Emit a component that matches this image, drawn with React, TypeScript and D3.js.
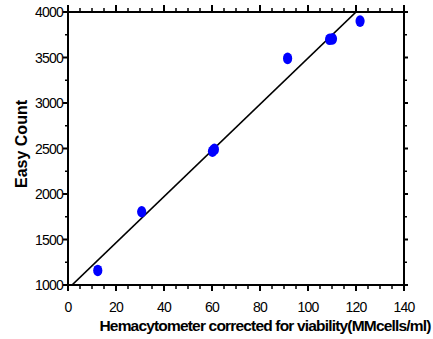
import React from 'react';
import * as d3 from 'd3';

const width = 433;
const height = 339;
const margin = { top: 12, right: 29, bottom: 54, left: 68 };

// measured points: hemacytometer (MM cells/ml) vs Easy Count
const hemaValues = [12.4, 30.7, 60.2, 61.0, 91.5, 109.0, 110.2, 121.7];
const easyValues = [1160, 1805, 2470, 2490, 3490, 3700, 3705, 3900];

// fitted line
const fitSlope = 25.36;
const fitIntercept = 957;

const xTicks = [0, 20, 40, 60, 80, 100, 120, 140];
const yTicks = [1000, 1500, 2000, 2500, 3000, 3500, 4000];

const x = d3
	.scaleLinear()
	.domain([0, 140])
	.range([margin.left, width - margin.right]);

const y = d3
	.scaleLinear()
	.domain([1000, 4000])
	.range([height - margin.bottom, margin.top]);

const xMinor = d3.range(0, 141, 5).filter(d => d % 20 !== 0);
const yMinor = d3.range(1000, 4001, 250).filter(d => d % 500 !== 0);

const fitLine = d3
	.line<number>()
	.x(d => x(d))
	.y(d => y(fitIntercept + fitSlope * d));

const font = '"Liberation Sans", Arial, sans-serif';

export default function App() {
	const x0 = x.range()[0];
	const x1 = x.range()[1];
	const y0 = y.range()[0];
	const y1 = y.range()[1];
	const points = hemaValues.map((h, i) => ({ h, e: easyValues[i] }));

	return (
		<svg width={width} height={height} style={{ position: 'absolute', left: 0, top: 0 }}>
			<defs>
				<clipPath id="plot">
					<rect x={x0} y={y1} width={x1 - x0} height={y0 - y1} />
				</clipPath>
			</defs>
			<rect width={width} height={height} fill="#fff" />

			{/* fit line */}
			<path
				d={fitLine([0, 140]) || ''}
				fill="none"
				stroke="#000"
				strokeWidth={1.6}
				clipPath="url(#plot)"
			/>

			{/* data points */}
			{points.map((p, i) => (
				<ellipse key={i} cx={x(p.h)} cy={y(p.e)} rx={4.6} ry={5.8} fill="#0000ff" />
			))}

			{/* frame */}
			<rect x={x0} y={y1} width={x1 - x0} height={y0 - y1} fill="none" stroke="#000" strokeWidth={2} />

			{/* bottom and top ticks */}
			{xTicks.map(t => (
				<g key={'xt' + t}>
					<line x1={x(t)} x2={x(t)} y1={y0} y2={y0 + 6} stroke="#000" strokeWidth={2} />
					<line x1={x(t)} x2={x(t)} y1={y1} y2={y1 - 7} stroke="#000" strokeWidth={2} />
					<text
						x={x(t)}
						y={y0 + 27}
						textAnchor="middle"
						fontFamily={font}
						fontSize={14}
						letterSpacing={-0.8}
						fill="#000"
					>
						{t}
					</text>
				</g>
			))}
			{xMinor.map(t => (
				<g key={'xm' + t}>
					<line x1={x(t)} x2={x(t)} y1={y0} y2={y0 + 4} stroke="#000" strokeWidth={1.5} />
					<line x1={x(t)} x2={x(t)} y1={y1} y2={y1 - 4} stroke="#000" strokeWidth={1.5} />
				</g>
			))}

			{/* left and right ticks */}
			{yTicks.map(t => (
				<g key={'yt' + t}>
					<line x1={x0} x2={x0 - 5} y1={y(t)} y2={y(t)} stroke="#000" strokeWidth={2} />
					<line x1={x1} x2={x1 + 4} y1={y(t)} y2={y(t)} stroke="#000" strokeWidth={2} />
					<text
						x={x0 - 5}
						y={y(t) + 5}
						textAnchor="end"
						fontFamily={font}
						fontSize={14}
						letterSpacing={-0.8}
						fill="#000"
					>
						{t}
					</text>
				</g>
			))}
			{yMinor.map(t => (
				<g key={'ym' + t}>
					<line x1={x0} x2={x0 - 3} y1={y(t)} y2={y(t)} stroke="#000" strokeWidth={1.5} />
					<line x1={x1} x2={x1 + 3} y1={y(t)} y2={y(t)} stroke="#000" strokeWidth={1.5} />
				</g>
			))}

			{/* axis titles */}
			<text
				x={265}
				y={331}
				textAnchor="middle"
				fontFamily={font}
				fontSize={15.5}
				fontWeight="bold"
				letterSpacing={-0.82}
				fill="#000"
			>
				Hemacytometer corrected for viability(MMcells/ml)
			</text>
			<text
				transform={`translate(27, 144) rotate(-90)`}
				textAnchor="middle"
				fontFamily={font}
				fontSize={16}
				fontWeight="bold"
				fill="#000"
			>
				Easy Count
			</text>
		</svg>
	);
}
